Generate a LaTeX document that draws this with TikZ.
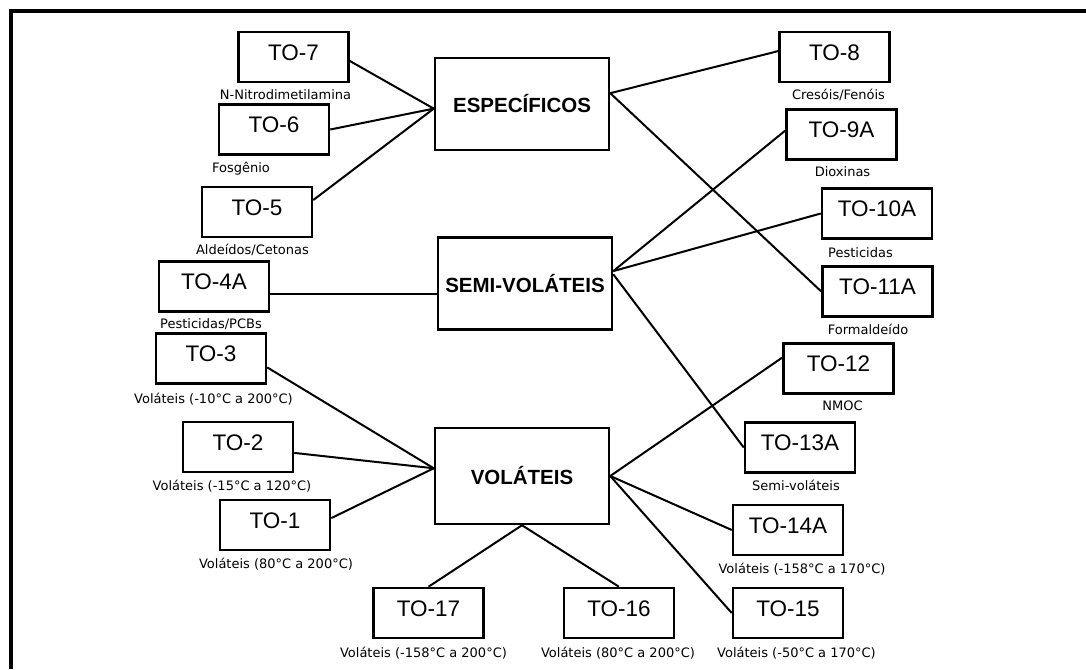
\documentclass[tikz,border=0pt]{standalone}
\usepackage{fontspec}
\setmainfont{Liberation Sans}
\newfontfamily\descfont{DejaVu Sans}
\usetikzlibrary{positioning}

\begin{document}
\begin{tikzpicture}[x=1pt, y=-1pt,
        tobox/.style={draw, line width=2.5pt, minimum width=110pt, minimum height=50pt, inner sep=0pt,
            text height=16pt, text depth=10pt, font=\fontsize{22.5}{24}\selectfont},
        grpbox/.style={draw, line width=2.5pt, minimum width=174pt, minimum height=92pt,
            font=\fontsize{20.5}{24}\selectfont\bfseries},
        desc/.style={inner sep=0pt, font=\descfont\fontsize{13}{15}\selectfont},
        link/.style={line width=2pt}]
        \useasboundingbox (0,0) rectangle (1086,669);
        \draw[line width=3.5pt] (11,669) -- (11,11) -- (1086,11);

        \node[grpbox](g1) at (522,104){ESPECÍFICOS};
        \node[grpbox](g2) at (525,283.5){SEMI-VOLÁTEIS};
        \node[grpbox, minimum height=96pt](g3) at (522,476){VOLÁTEIS};

        \node[tobox](t7) at (293.5,57){TO-7};
        \node[tobox](t6) at (274,129.5){TO-6};
        \node[tobox](t5) at (257,212){TO-5};
        \node[tobox](t4) at (214,286.5){TO-4A};
        \node[tobox](t3) at (211,358.5){TO-3};
        \node[tobox](t2) at (238,447){TO-2};
        \node[tobox](t1) at (275,525){TO-1};
        \node[tobox](t17) at (428.5,613){TO-17};
        \node[tobox](t16) at (619,613){TO-16};
        \node[tobox](t15) at (788,613){TO-15};
        \node[tobox](t14) at (788,530){TO-14A};
        \node[tobox](t13) at (800,447.5){TO-13A};
        \node[tobox](t12) at (838.5,368.5){TO-12};
        \node[tobox](t11) at (877.5,291.5){TO-11A};
        \node[tobox](t10) at (877,213.5){TO-10A};
        \node[tobox](t9) at (841.5,134.5){TO-9A};
        \node[tobox](t8) at (834.5,57){TO-8};

        \node[desc, below=6pt of t7, xshift=-8pt](d7){N-Nitrodimetilamina};
        \node[desc, below=6pt of t6, xshift=-33pt](d6){Fosgênio};
        \node[desc, below=6pt of t5, xshift=-4.5pt](d5){Aldeídos/Cetonas};
        \node[desc, below=6pt of t4, xshift=-3pt](d4){Pesticidas/PCBs};
        \node[desc, below=8pt of t3, xshift=2.5pt](d3){Voláteis (-10°C a 200°C)};
        \node[desc, below=7pt of t2, xshift=-6pt](d2){Voláteis (-15°C a 120°C)};
        \node[desc, below=7pt of t1, xshift=1pt](d1){Voláteis (80°C a 200°C)};
        \node[desc, below=8pt of t17, xshift=-5pt](d17){Voláteis (-158°C a 200°C)};
        \node[desc, below=8pt of t16, xshift=-1pt](d16){Voláteis (80°C a 200°C)};
        \node[desc, below=8pt of t15, xshift=8.5pt](d15){Voláteis (-50°C a 170°C)};
        \node[desc, below=7pt of t14, xshift=14pt](d14){Voláteis (-158°C a 170°C)};
        \node[desc, below=6pt of t13, xshift=-4pt](d13){Semi-voláteis};
        \node[desc, below=6pt of t12, xshift=4pt](d12){NMOC};
        \node[desc, below=6pt of t11, xshift=-9.5pt](d11){Formaldeído};
        \node[desc, below=8pt of t10, xshift=-16.5pt](d10){Pesticidas};
        \node[desc, below=6pt of t9, xshift=1pt](d9){Dioxinas};
        \node[desc, below=6pt of t8, xshift=4pt](d8){Cresóis/Fenóis};

        \draw(t7.356) edge[link] (g1.183);
        \draw(t6.east) edge[link] (g1.183);
        \draw(t5.12) edge[link] (g1.183);
        \draw(g1.7) edge[link] (t8.174);
        \draw(g1.7) edge[link] (t11.west);

        \draw(g2.187) edge[link] (g2.187 -| t4.east);
        \draw(g2.8) edge[link] (t9.176);
        \draw(g2.8) edge[link] (t10.west);
        \draw(g2.6) edge[link] (t13.west);

        \draw(t3.351) edge[link] (g3.175);
        \draw(t2.354) edge[link] (g3.175);
        \draw(t1.7) edge[link] (g3.175);
        \draw(g3.east) edge[link] (t12.169);
        \draw(g3.east) edge[link] (t14.west);
        \draw(g3.east) edge[link] (t15.west);
        \draw(g3.south) edge[link] (t17.north);
        \draw(g3.south) edge[link] (t16.north);
    \end{tikzpicture}
\end{document}
